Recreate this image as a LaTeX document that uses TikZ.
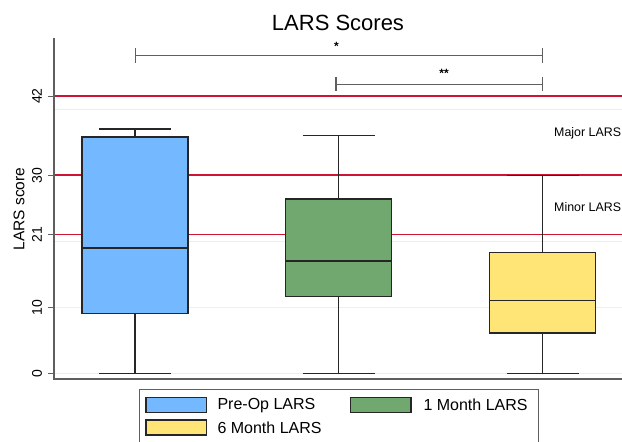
\documentclass[tikz,border=0pt]{standalone}
\usepackage{fontspec}
\setmainfont{Liberation Sans}
\usepackage{xcolor}
\usetikzlibrary{positioning}

\definecolor{preop}{RGB}{116,184,255}
\definecolor{onemonth}{RGB}{112,168,112}
\definecolor{sixmonth}{RGB}{255,228,118}
\definecolor{cutoff}{RGB}{205,20,55}
\definecolor{axisgray}{RGB}{95,95,95}
\definecolor{gridblue}{RGB}{232,240,243}

\begin{document}
\begin{tikzpicture}[x=1pt,y=6.6pt,
    boxline/.style={draw=black!85,line width=1.4pt},
    whisk/.style={black!85,line width=1.2pt},
    redline/.style={cutoff,line width=1.4pt},
    bracket/.style={axisgray,line width=1.1pt},
    ticklabel/.style={rotate=90,font=\fontsize{14}{14}\selectfont}]
  % canvas: 622 x 442 px, y in score units (0 at px 373.3)
  \useasboundingbox (0,-10.41) rectangle (622,56.56);
  \clip (0,-10.41) rectangle (622,56.56);
  \def\Xa{54}
  \def\Xb{622}

  % light grid
  \foreach \g in {0,10,20,30,40}{
    \draw[gridblue,line width=0.8pt] (\Xa,\g) -- (\Xb,\g);
  }
  % cut-off lines for minor / major LARS
  \draw[redline] (\Xa,21) -- (\Xb,21);
  \draw[redline] (\Xa,30.05) -- (\Xb,30.05);
  \draw[redline] (\Xa,42) -- (\Xb,42);

  % boxes: centre / min / q1 / median / q3 / max / colour
  \foreach \x/\lo/\qa/\me/\qc/\hi/\c in
      {135/0/9.1/19/35.8/37/preop,
       338.5/0/11.6/17/26.4/36/onemonth,
       542.5/0/6.1/11/18.3/30/sixmonth}{
    \draw[whisk] (\x,\lo) -- (\x,\qa) (\x,\qc) -- (\x,\hi);
    \draw[whisk] (\x-36,\lo) -- (\x+36,\lo);
    \draw[whisk] (\x-36,\hi) -- (\x+36,\hi);
    \draw[boxline,fill=\c] (\x-53,\qa) rectangle (\x+53,\qc);
    \draw[boxline] (\x-53,\me) -- (\x+53,\me);
  }

  % axes
  \draw[axisgray,line width=1.2pt] (\Xa,50.8) -- (\Xa,-0.86) -- (\Xb,-0.86);
  \foreach \t in {0,10,21,30,42}{
    \draw[axisgray,line width=1pt] (48,\t) -- (\Xa,\t);
    \node[ticklabel] (tick\t) at (37,\t) {\t};
  }
  \node[rotate=90,font=\fontsize{15.5}{15.5}\selectfont] (ylab) at (19,24.9) {LARS score};
  \node[font=\fontsize{22}{22}\selectfont] (title) at (338,53.1) {LARS Scores};

  % significance brackets
  \draw[bracket] (135.5,49.3) -- (135.5,47.0) (135.5,48.1) -- (542.3,48.1)
                 (542.3,49.3) -- (542.3,47.0);
  \node[font=\bfseries\fontsize{12}{12}\selectfont] (star1) at (336.5,49.6) {*};
  \draw[bracket] (336,44.9) -- (336,42.8) (336,43.8) -- (542.3,43.8)
                 (542.3,44.9) -- (542.3,42.8);
  \node[font=\bfseries\fontsize{12}{12}\selectfont] (star2) at (444,45.5) {**};

  % cut-off labels
  \node[anchor=west,inner sep=0pt,font=\fontsize{12.4}{12.4}\selectfont] (major) at (554,36.3) {Major LARS};
  \node[anchor=west,inner sep=0pt,font=\fontsize{12.4}{12.4}\selectfont] (minor) at (554,25.2) {Minor LARS};

  % legend
  \draw[axisgray,line width=1pt,fill=white] (139,-2.52) rectangle (538.3,-12);
  \draw[black!85,line width=1.1pt,fill=preop] (146,-3.70) rectangle (206.7,-5.97);
  \draw[black!85,line width=1.1pt,fill=onemonth] (350.7,-3.70) rectangle (411,-5.97);
  \draw[black!85,line width=1.1pt,fill=sixmonth] (146,-7.08) rectangle (206.7,-9.35);
  \node[anchor=west,font=\fontsize{16}{16}\selectfont] (leg1) at (214,-4.83) {Pre-Op LARS};
  \node[anchor=west,font=\fontsize{16}{16}\selectfont] (leg2) at (420,-4.83) {1 Month LARS};
  \node[anchor=west,font=\fontsize{16}{16}\selectfont] (leg3) at (214,-8.2) {6 Month LARS};
\end{tikzpicture}
\end{document}
